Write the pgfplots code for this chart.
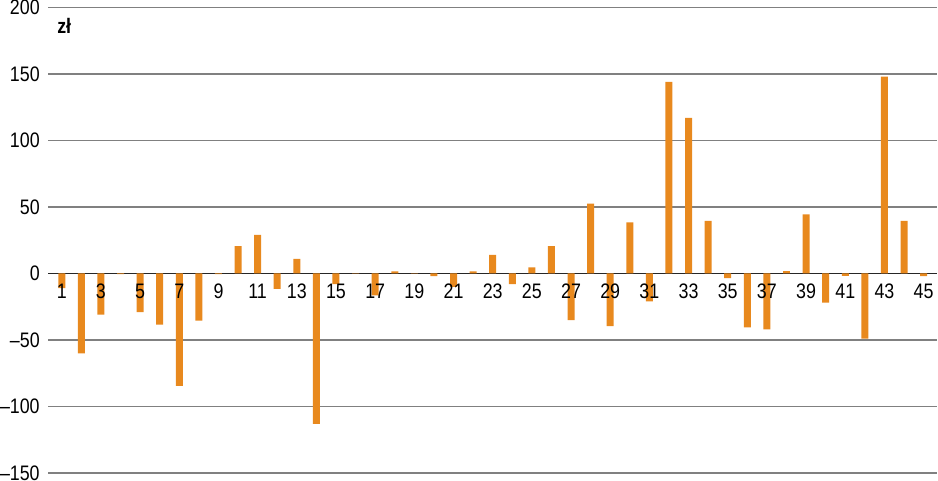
\documentclass[border=0pt]{standalone}
\usepackage{fontspec}
\setmainfont{Liberation Sans}[FakeStretch=0.85]
\usepackage{pgfplots}
\pgfplotsset{compat=1.18}
\definecolor{barorange}{RGB}{232,137,30}
\pgfplotsset{
  common/.style={
    scale only axis, width=445pt, height=233pt,
    xmin=0.3, xmax=45.7, ymin=-150, ymax=200,
    major tick length=0pt,
    /pgf/number format/assume math mode=true,
    clip=false,
  }
}
\begin{document}
\fontsize{10.5}{12}\selectfont
\begin{tikzpicture}
\begin{axis}[
  common,
  axis x line=middle, axis y line=left,
  x axis line style={draw=black!85, line width=0.7pt, -},
  y axis line style={draw=none},
  ytick={-150,-100,-50,0,50,100,150,200},
  yticklabels={–150,–100,–50,0,50,100,150,200},
  ymajorgrids, grid style={black!50, line width=0.7pt},
  xtick=\empty,
  yticklabel style={font=\fontsize{10.5}{12}\selectfont, inner sep=0pt, xshift=-4pt},
]
\addplot[ybar, bar width=3.5pt, fill=barorange, draw=none] coordinates {
(1,-11) (2,-60) (3,-31) (4,-0.5) (5,-29) (6,-38.5) (7,-84.5) (8,-35.5) (9,-0.5)
(10,20.5) (11,29) (12,-11.5) (13,11) (14,-113) (15,-8) (16,0.3) (17,-16.5)
(18,1.5) (19,0.3) (20,-2) (21,-10) (22,1.5) (23,14) (24,-8) (25,4.5) (26,20.5)
(27,-35) (28,52.5) (29,-39.5) (30,38.5) (31,-21) (32,144) (33,117) (34,39.5)
(35,-3.5) (36,-40.5) (37,-42) (38,1.8) (39,44.5) (40,-22) (41,-1.8) (42,-49)
(43,148) (44,39.5) (45,-2)
};
\node[anchor=west, inner sep=0pt, font=\bfseries\fontsize{10.5}{12}\selectfont] at (axis cs:0.75,186) {zł};
\end{axis}
\begin{axis}[
  common,
  axis x line=middle, axis y line=none,
  x axis line style={draw=none},
  xtick={1,3,...,45},
  xticklabel style={font=\fontsize{10.5}{12}\selectfont, inner sep=1pt, yshift=-4pt},
]
\end{axis}
\end{tikzpicture}
\end{document}
